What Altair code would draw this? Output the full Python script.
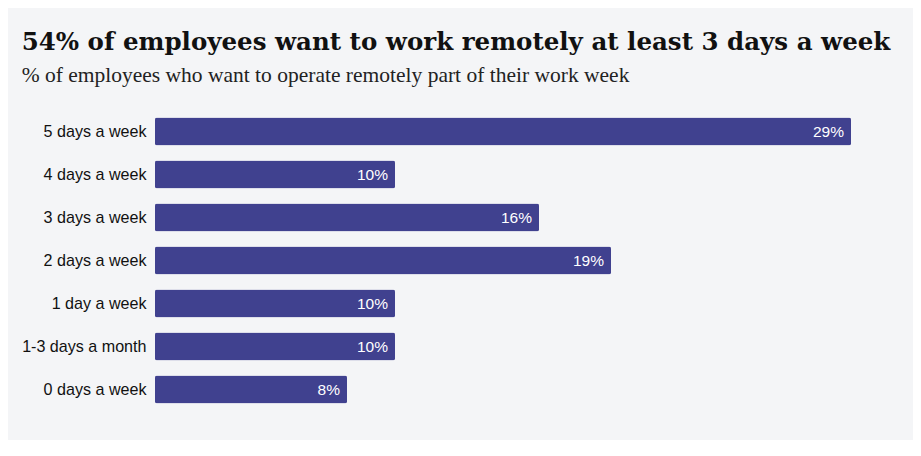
import altair as alt
import pandas as pd

categories = [
    "5 days a week",
    "4 days a week",
    "3 days a week",
    "2 days a week",
    "1 day a week",
    "1-3 days a month",
    "0 days a week",
]
shares = [29, 10, 16, 19, 10, 10, 8]

df = pd.DataFrame({"category": categories, "share": shares})
df["label"] = [f"{v}%" for v in df["share"]]

BAR = "#40418f"
BG = "#f4f5f7"

base = alt.Chart(df).encode(
    y=alt.Y(
        "category:N",
        sort=categories,
        title=None,
        scale=alt.Scale(paddingInner=0.35, paddingOuter=0.175),
        axis=alt.Axis(
            domain=False,
            ticks=False,
            labelPadding=9,
            labelFont="Liberation Sans",
            labelFontSize=16.1,
            labelColor="#111111",
        ),
    ),
    x=alt.X(
        "share:Q",
        scale=alt.Scale(domain=[0, 29], nice=False),
        axis=None,
    ),
)

bars = base.mark_bar(color=BAR, cornerRadius=2)
labels = base.mark_text(
    align="right",
    baseline="middle",
    dx=-7,
    color="white",
    font="Liberation Sans",
    fontSize=15.5,
).encode(text="label:N")

chart = (
    alt.layer(bars, labels)
    .properties(
        width=696,
        height=301,
        padding={"left": 147, "top": 102, "right": 62, "bottom": 29},
        autosize=alt.AutoSizeParams(type="none"),
        background=BG,
        title=alt.TitleParams(
            "54% of employees want to work remotely at least 3 days a week",
            subtitle="% of employees who want to operate remotely part of their work week",
            anchor="start",
            frame="bounds",
            font="DejaVu Serif",
            fontSize=24.5,
            fontWeight="bold",
            color="#111111",
            subtitleFont="Liberation Serif",
            subtitleFontSize=21.5,
            subtitleColor="#222222",
            subtitlePadding=9,
            offset=23,
        ),
    )
    .configure_view(stroke=None)
    .configure_axis(grid=False)
)

chart.save("out.html", embed_options={"renderer": "svg", "actions": False})
